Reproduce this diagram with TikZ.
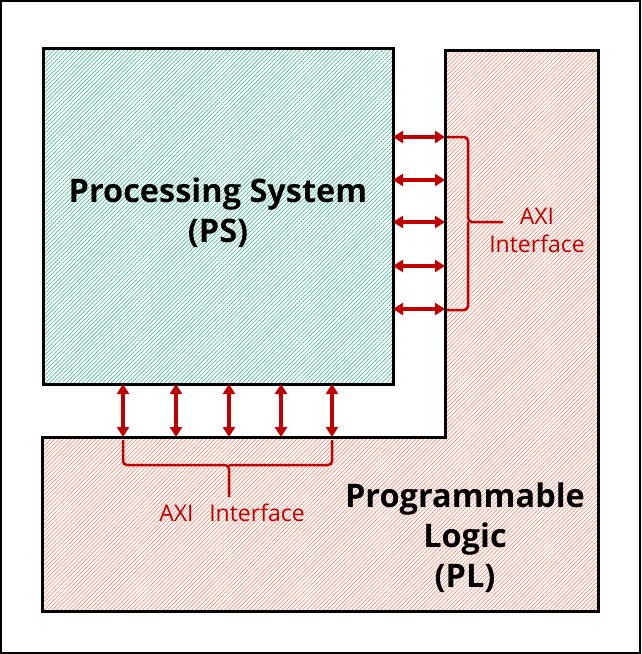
\documentclass[tikz,border=0pt]{standalone}
\usepackage{fontspec}
\setmainfont{Open Sans}
\usetikzlibrary{arrows.meta,patterns.meta}
\definecolor{axired}{HTML}{C00000}
\definecolor{psteal}{HTML}{5DBEA3}
\definecolor{plpink}{HTML}{EE9A88}
\tikzset{
  hatchps/.style={pattern={Lines[angle=45,distance=2.9pt,line width=0.8pt]},pattern color=psteal},
  hatchpl/.style={pattern={Lines[angle=45,distance=2.9pt,line width=0.8pt]},pattern color=plpink},
  blockline/.style={draw=black,line width=3pt},
  axiarrow/.style={draw=axired,line width=3.2pt,{Triangle[length=10pt,width=12pt]}-{Triangle[length=10pt,width=12pt]}},
  bracket/.style={draw=axired,line width=2.5pt,rounded corners=4pt},
  axitext/.style={text=axired,font=\fontsize{23}{28}\selectfont,align=center},
  title/.style={font=\fontsize{32.5}{40}\selectfont\bfseries,align=center}
}
\begin{document}
\begin{tikzpicture}[x=1pt,y=-1pt]
\useasboundingbox (0,0) rectangle (641,654);
\draw[line width=2.5pt] (1.2,1.2) rectangle (639.8,652.8);
% PL L-shape
\path[hatchpl,blockline] (42,437) -- (445,437) -- (445,50) -- (598,50) -- (598,611) -- (42,611) -- cycle;
% PS
\node[hatchps,blockline,minimum width=350pt,minimum height=336pt,anchor=north west,inner sep=0pt] (ps) at (42,47) {};
\node[title] (pstext) at (218,213) {Processing System\\(PS)};
\node[title] (pltext) at (465,538) {Programmable\\Logic\\(PL)};
% right arrows
\foreach \i/\y in {1/137,2/180,3/222,4/266,5/309}{
  \coordinate (rl\i) at (393,\y);
  \coordinate (rr\i) at (445,\y);
  \draw[axiarrow] (rl\i) -- (rr\i);
}
% bottom arrows
\foreach \i/\x in {1/123,2/176,3/229,4/281,5/332}{
  \coordinate (bt\i) at (\x,384);
  \coordinate (bb\i) at (\x,437);
  \draw[axiarrow] (bt\i) -- (bb\i);
}
% right bracket
\coordinate (rbtop) at (447,137);
\coordinate (rbbot) at (447,310);
\coordinate (rbtip) at (503,222);
\draw[bracket] (rbtop) -- (468,137) -- (468,222) -- (rbtip);
\draw[bracket] (rbbot) -- (468,310) -- (468,222);
\node[axitext] (rtext) at (537,230) {AXI\\Interface};
% bottom bracket
\coordinate (bbl) at (123,440);
\coordinate (bbr) at (332,440);
\coordinate (bbtip) at (229,497);
\draw[bracket] (bbl) -- (123,465) -- (229,465) -- (bbtip);
\draw[bracket] (bbr) -- (332,465) -- (229,465);
\node[axitext] (btext) at (232,513) {AXI\ \ \,Interface};
\end{tikzpicture}
\end{document}
